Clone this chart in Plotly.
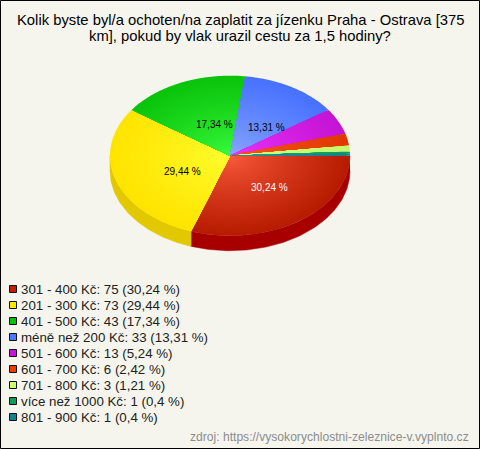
import math
import plotly.graph_objects as go

labels = ["301 - 400 Kč", "201 - 300 Kč", "401 - 500 Kč", "méně než 200 Kč", "501 - 600 Kč",
          "601 - 700 Kč", "701 - 800 Kč", "více než 1000 Kč", "801 - 900 Kč"]
counts = [75, 73, 43, 33, 13, 6, 3, 1, 1]
percents = ["30,24", "29,44", "17,34", "13,31", "5,24", "2,42", "1,21", "0,4", "0,4"]
inner_colors = ["#ff5f42", "#ffff33", "#3dff42", "#8fabff", "#f035ff", "#ff5a25", "#d2ff80", "#22b070", "#2a90a0"]
outer_colors = ["#b81c00", "#ffe400", "#0ac40a", "#4772ff", "#c414d4", "#e03800", "#c4f870", "#109a60", "#16808e"]
side_colors = ["#a80000", "#e2c800", "#0a9a0a", "#3050c0", "#9a10a8", "#b03000", "#a0c860", "#0c7048", "#106070"]
swatches = ["#c02000", "#ffe800", "#0cc00c", "#4a78ff", "#c814d8", "#e84000", "#ccff70", "#109a60", "#16808e"]
inside_labels = {0: "white", 1: "black", 2: "black", 3: "black"}
title_lines = ["Kolik byste byl/a ochoten/na zaplatit za jízenku Praha - Ostrava [375",
               "km], pokud by vlak urazil cestu za 1,5 hodiny?"]
source = "zdroj: https://vysokorychlostni-zeleznice-v.vyplnto.cz"

W, H = 480, 449
CX, CY, RX, RY, DEPTH = 230, 155.7, 120, 80, 15
BG = "#f5f5ee"
LABEL_NUDGE = {0: (4.5, 0.3), 1: (9.5, -3), 2: (9, -5), 3: (5, -6)}


def mix(a, b, t):
    pa = [int(a[i:i + 2], 16) for i in (1, 3, 5)]
    pb = [int(b[i:i + 2], 16) for i in (1, 3, 5)]
    return "rgb(%d,%d,%d)" % tuple(round(x + (y - x) * t) for x, y in zip(pa, pb))


total = sum(counts)
fig = go.Figure()
angles = [0.0]
for c in counts:
    angles.append(angles[-1] + c / total * 2 * math.pi)


def arc(a0, a1, r=1.0, dy=0.0):
    n = max(2, int((a1 - a0) / 0.02))
    pts = [a0 + (a1 - a0) * i / n for i in range(n + 1)]
    return [r * math.cos(p) for p in pts], [r * math.sin(p) + dy for p in pts]


dy_unit = DEPTH / RY
for i, c in enumerate(counts):
    a0, a1 = angles[i], min(angles[i + 1], math.pi)
    if a0 >= math.pi:
        continue
    x1, y1 = arc(a0, a1)
    x2, y2 = arc(a0, a1, dy=dy_unit)
    fig.add_trace(go.Scatter(x=x1 + x2[::-1], y=y1 + y2[::-1], fill="toself", mode="lines",
                             line=dict(width=0.5, color=side_colors[i]), fillcolor=side_colors[i],
                             hoverinfo="skip", showlegend=False))
LAYERS = 36
for i, c in enumerate(counts):
    for k in range(LAYERS):
        r = 1 - k / LAYERS
        col = mix(inner_colors[i], outer_colors[i], r ** 0.75)
        x, y = arc(angles[i], angles[i + 1], r)
        fig.add_trace(go.Scatter(x=[0] + x + [0], y=[0] + y + [0], fill="toself", mode="none",
                                 fillcolor=col, hoverinfo="skip", showlegend=False))

ann = []
for i, col in inside_labels.items():
    m = (angles[i] + angles[i + 1]) / 2
    dx, dy = LABEL_NUDGE[i]
    ann.append(dict(x=0.5 * math.cos(m), y=0.5 * math.sin(m), xref="x", yref="y",
                    text=percents[i] + " %", showarrow=False, xshift=dx, yshift=dy,
                    font=dict(size=10, color=col, family="Liberation Sans")))
for j, t in enumerate(title_lines):
    ann.append(dict(x=240 / W, y=1 - (20 + 15.5 * j) / H, xref="paper", yref="paper", text=t, showarrow=False,
                    xanchor="center", yanchor="middle",
                    font=dict(size=14.8, color="#000", family="Liberation Sans")))
shapes = []
for i, (lab, c, p) in enumerate(zip(labels, counts, percents)):
    yc = 289 + i * 16
    shapes.append(dict(type="rect", xref="paper", yref="paper", x0=9.5 / W, x1=16.5 / W,
                       y0=1 - (yc + 3.5) / H, y1=1 - (yc - 3.5) / H,
                       fillcolor=swatches[i], line=dict(color="#111", width=1)))
    ann.append(dict(x=18.5 / W, y=1 - yc / H, xref="paper", yref="paper", text=f"{lab}: {c} ({p} %)",
                    showarrow=False, xanchor="left", yanchor="middle",
                    font=dict(size=13.3, color="#222", family="Liberation Sans")))
ann.append(dict(x=471 / W, y=1 - 437 / H, xref="paper", yref="paper", text=source, showarrow=False,
                xanchor="right", yanchor="middle", font=dict(size=12.1, color="#8c8c8c", family="Liberation Sans")))
shapes.append(dict(type="rect", xref="paper", yref="paper", x0=0.5 / W, x1=1 - 0.5 / W, y0=0.5 / H, y1=1 - 0.5 / H,
                   line=dict(color="#000", width=1), fillcolor="rgba(0,0,0,0)"))

fig.update_layout(
    width=W, height=H, margin=dict(l=0, r=0, t=0, b=0), paper_bgcolor=BG, plot_bgcolor=BG,
    showlegend=False, annotations=ann, shapes=shapes,
    xaxis=dict(visible=False, range=[-CX / RX, (W - CX) / RX], fixedrange=True),
    yaxis=dict(visible=False, range=[(H - CY) / RY, -CY / RY], fixedrange=True),
)
fig.write_html("out.html", config=dict(displayModeBar=False),
               post_script="document.body.style.margin='0';document.body.style.overflow='hidden';")
